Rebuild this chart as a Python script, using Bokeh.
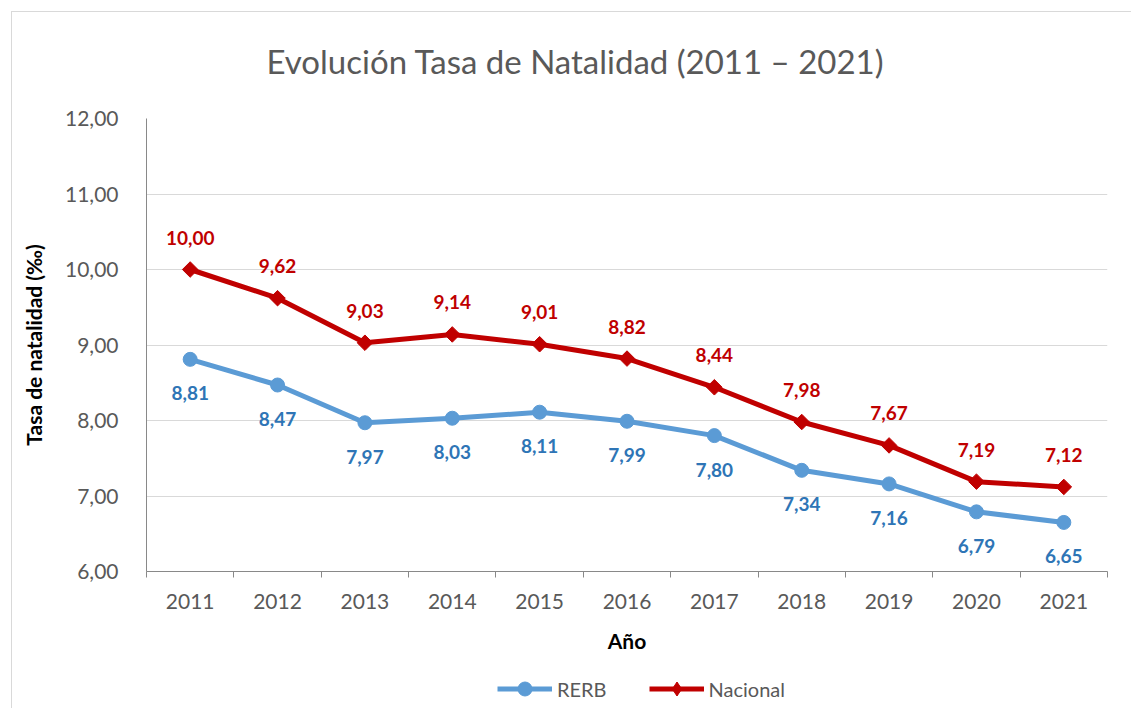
import math
from bokeh.plotting import figure
from bokeh.layouts import column
from bokeh.models import (Range1d, FixedTicker, ColumnDataSource, Title, Legend,
                          LegendItem, InlineStyleSheet)
from bokeh.core.properties import value
from bokeh.embed import file_html
from bokeh.resources import INLINE

years = ["2011", "2012", "2013", "2014", "2015", "2016", "2017", "2018", "2019", "2020", "2021"]
rerb = [8.81, 8.47, 7.97, 8.03, 8.11, 7.99, 7.80, 7.34, 7.16, 6.79, 6.65]
nacional = [10.00, 9.62, 9.03, 9.14, 9.01, 8.82, 8.44, 7.98, 7.67, 7.19, 7.12]
y_ticks = [6, 7, 8, 9, 10, 11, 12]
y_tick_labels = ["6,00", "7,00", "8,00", "9,00", "10,00", "11,00", "12,00"]

FONT = "Lato"
GRAY = "#595959"
BLUE = "#5B9BD5"
BLUE_TXT = "#2E75B6"
RED = "#C00000"

xs = list(range(len(years)))

def fmt(v):
    return f"{v:.2f}".replace(".", ",")

src_r = ColumnDataSource(dict(x=xs, y=rerb, t=[fmt(v) for v in rerb]))
src_n = ColumnDataSource(dict(x=xs, y=nacional, t=[fmt(v) for v in nacional]))

p = figure(width=1123, height=660, output_backend="svg", toolbar_location=None,
           x_range=Range1d(-0.5, len(years) - 0.5), y_range=Range1d(6, 12),
           min_border_left=146, min_border_right=16, min_border_top=117,
           min_border_bottom=89)
p.outline_line_color = None
p.background_fill_color = "white"
p.border_fill_color = "white"

# axes
p.xaxis.ticker = FixedTicker(ticks=xs, minor_ticks=[i - 0.5 for i in range(len(years) + 1)])
p.xaxis.major_label_overrides = {i: years[i] for i in xs}
p.xaxis.major_tick_out = 0
p.xaxis.major_tick_in = 0
p.xaxis.minor_tick_out = 6
p.xaxis.minor_tick_in = 0
p.xaxis.minor_tick_line_color = "#898989"
p.xaxis.axis_line_color = "#898989"
p.xaxis.major_label_text_font = FONT
p.xaxis.major_label_text_font_size = "21px"
p.xaxis.major_label_text_color = GRAY
p.xaxis.major_label_standoff = 16
p.xaxis.axis_label = "Año"
p.xaxis.axis_label_text_font = FONT
p.xaxis.axis_label_text_font_style = "bold"
p.xaxis.axis_label_text_font_size = "21px"
p.xaxis.axis_label_text_color = "black"
p.xaxis.axis_label_standoff = 16

p.yaxis.ticker = FixedTicker(ticks=y_ticks)
p.yaxis.major_label_overrides = {t: l for t, l in zip(y_ticks, y_tick_labels)}
p.yaxis.major_tick_out = 0
p.yaxis.major_tick_in = 0
p.yaxis.minor_tick_out = 0
p.yaxis.minor_tick_in = 0
p.yaxis.axis_line_color = "#898989"
p.yaxis.major_label_text_font = FONT
p.yaxis.major_label_text_font_size = "21px"
p.yaxis.major_label_text_color = GRAY
p.yaxis.major_label_standoff = 28
p.yaxis.axis_label = "Tasa de natalidad (‰)"
p.yaxis.axis_label_text_font = FONT
p.yaxis.axis_label_text_font_style = "bold"
p.yaxis.axis_label_text_font_size = "21px"
p.yaxis.axis_label_text_color = "black"
p.yaxis.axis_label_standoff = 16

p.xgrid.grid_line_color = None
p.ygrid.grid_line_color = "#d9d9d9"
p.ygrid.grid_line_width = 1

# series
p.line("x", "y", source=src_r, line_color=BLUE, line_width=5)
p.scatter("x", "y", source=src_r, marker="circle", size=14, fill_color=BLUE, line_color=BLUE)
p.line("x", "y", source=src_n, line_color=RED, line_width=5)
p.scatter("x", "y", source=src_n, marker="square", angle=math.pi / 4, size=11,
          fill_color=RED, line_color=RED)

p.text("x", "y", text="t", source=src_r, text_align="center", text_baseline="middle",
       y_offset=34, text_font=value(FONT), text_font_style="bold",
       text_font_size="19px", text_color=BLUE_TXT)
p.text("x", "y", text="t", source=src_n, text_align="center", text_baseline="middle",
       y_offset=-32, text_font=value(FONT), text_font_style="bold",
       text_font_size="19px", text_color=RED)

# title
p.title = Title(text="Evolución Tasa de Natalidad (2011 – 2021)", align="left",
                offset=120, standoff=76, text_font=FONT, text_font_size="33px",
                text_font_style="normal", text_color=GRAY)

# legend strip (separate figure so the legend is not clipped); the series are
# drawn there out of its visible range, only the legend shows
lg = figure(width=1123, height=48, output_backend="svg", toolbar_location=None,
            x_range=Range1d(100, 101), y_range=Range1d(100, 101),
            min_border=0, min_border_left=0, min_border_right=0,
            min_border_top=0, min_border_bottom=0)
lg.axis.visible = False
lg.grid.visible = False
lg.outline_line_color = None
lg.background_fill_alpha = 0
lg.border_fill_alpha = 0
lr = lg.line("x", "y", source=src_r, line_color=BLUE, line_width=5)
mr = lg.scatter("x", "y", source=src_r, marker="circle", size=14,
                fill_color=BLUE, line_color=BLUE)
ln = lg.line("x", "y", source=src_n, line_color=RED, line_width=5)
mn = lg.scatter("x", "y", source=src_n, marker="diamond", size=17,
                fill_color=RED, line_color=RED)
legend = Legend(items=[LegendItem(label="RERB", renderers=[lr, mr]),
                       LegendItem(label="Nacional", renderers=[ln, mn])],
                location=(351, 2), orientation="horizontal",
                glyph_width=55, glyph_height=35, label_standoff=5, spacing=42,
                padding=0, margin=0, border_line_color=None, background_fill_alpha=0,
                label_text_font=FONT, label_text_font_size="20px", label_text_color=GRAY)
lg.add_layout(legend, "center")

layout = column(p, lg, spacing=0)
layout.stylesheets = [InlineStyleSheet(css=":host { position: relative; } "
                      ":host::after { content: ''; position: absolute; left: 11px; top: 11px; "
                      "right: -20px; bottom: -20px; border: 1px solid #d9d9d9; pointer-events: none; }")]

open("out.html", "w").write(file_html(layout, INLINE))
